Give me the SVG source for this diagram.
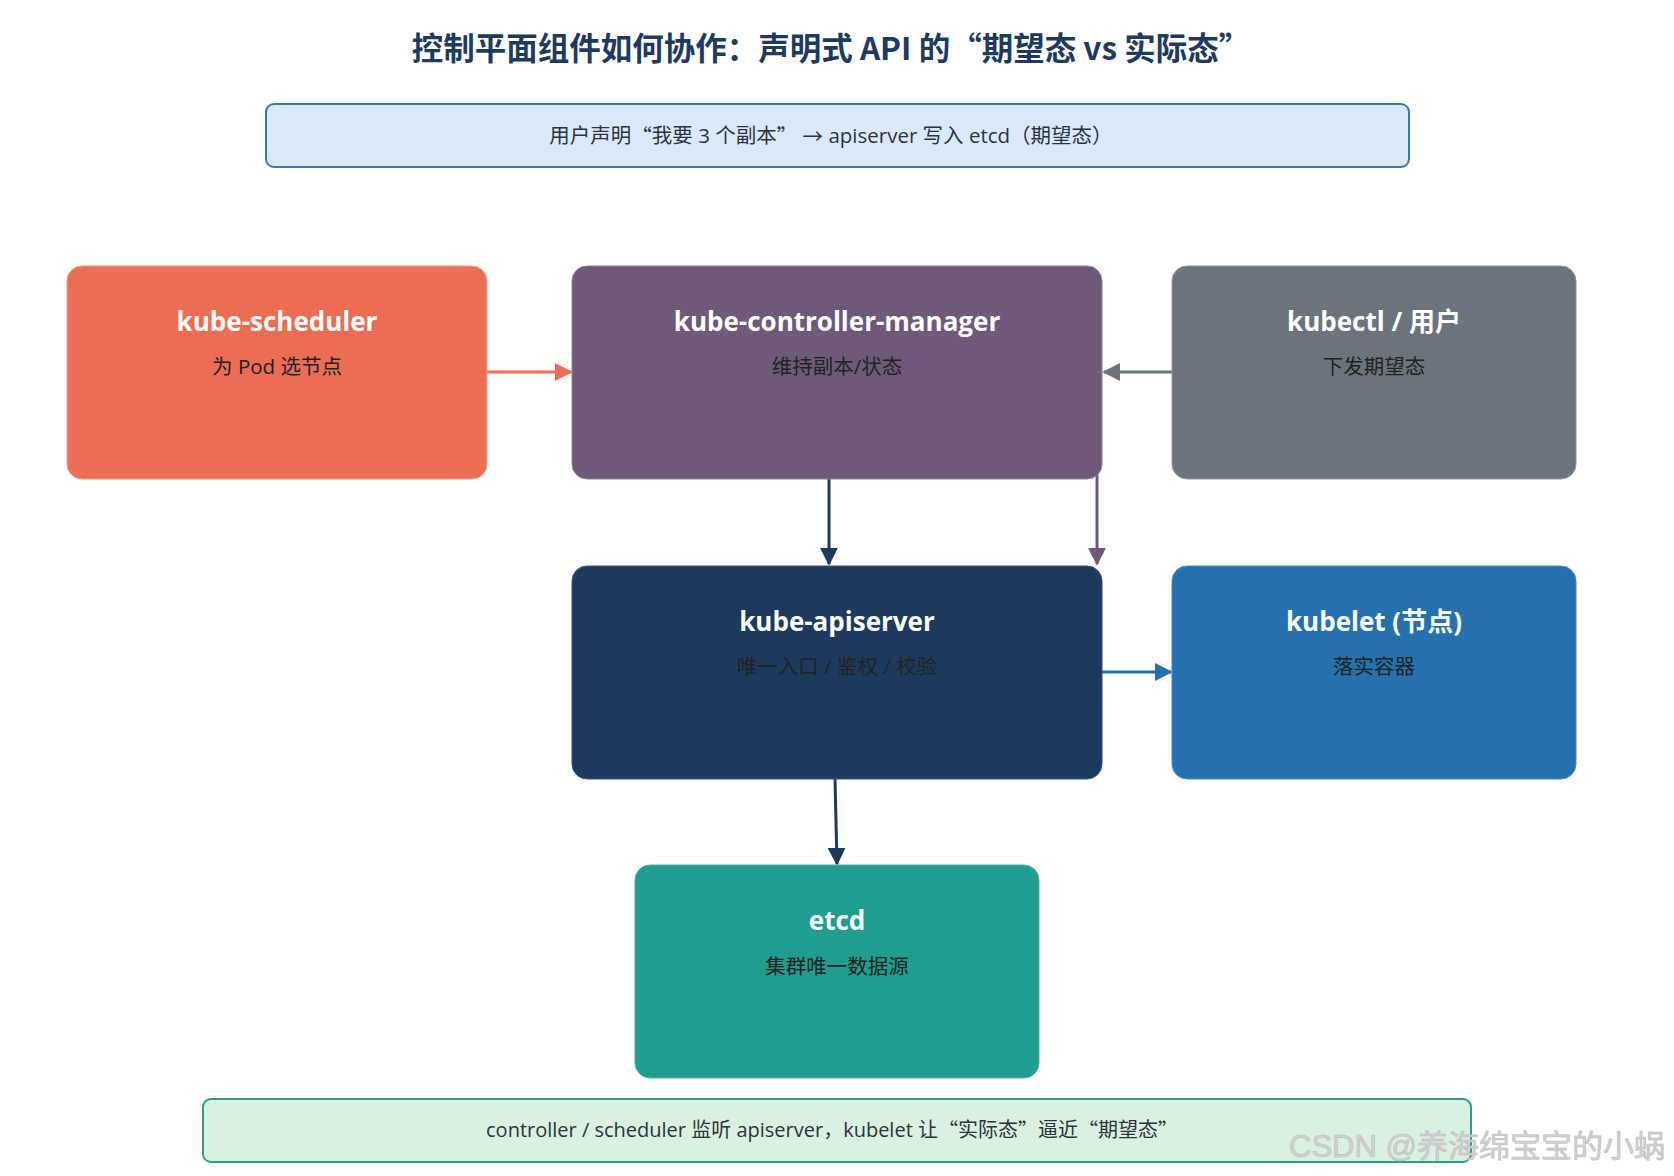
<svg xmlns="http://www.w3.org/2000/svg" width="1674" height="1176" viewBox="0 0 1674 1176">
<style>
  text { font-family: "Open Sans", "Noto Sans CJK SC", sans-serif; text-anchor: middle; dominant-baseline: central; }
  .title { font-family: "Noto Sans CJK SC", sans-serif; font-size: 31.5px; font-weight: bold; fill: #1e3a5f; }
  .band-text { font-family: "Open Sans", "Noto Sans CJK SC", sans-serif; font-size: 20px; fill: #2a3440; }
  .q { font-family: "Noto Sans CJK SC", sans-serif; }
  .ntitle { font-size: 26px; font-weight: bold; fill: #ffffff; }
  .nsub { font-size: 20.5px; fill: #222222; }
  .node { stroke-width: 1; }
  .conn { fill: none; stroke-width: 3; }
</style>
<defs>
  <marker id="ah-orange" viewBox="0 0 10 10" refX="9" refY="5" markerWidth="6" markerHeight="6" orient="auto"><path d="M0,0 L10,5 L0,10 z" fill="#eb6e54"/></marker>
  <marker id="ah-gray" viewBox="0 0 10 10" refX="9" refY="5" markerWidth="6" markerHeight="6" orient="auto"><path d="M0,0 L10,5 L0,10 z" fill="#6b747c"/></marker>
  <marker id="ah-navy" viewBox="0 0 10 10" refX="9" refY="5" markerWidth="6" markerHeight="6" orient="auto"><path d="M0,0 L10,5 L0,10 z" fill="#1c3a5e"/></marker>
  <marker id="ah-purple" viewBox="0 0 10 10" refX="9" refY="5" markerWidth="6" markerHeight="6" orient="auto"><path d="M0,0 L10,5 L0,10 z" fill="#6e5a78"/></marker>
  <marker id="ah-blue" viewBox="0 0 10 10" refX="9" refY="5" markerWidth="6" markerHeight="6" orient="auto"><path d="M0,0 L10,5 L0,10 z" fill="#2471ad"/></marker>
</defs>
<rect width="1674" height="1176" fill="#ffffff"/>

<text class="title" x="831" y="46">控制平面组件如何协作：声明式 API 的“期望态 vs 实际态”</text>

<g id="band-top">
  <rect x="266" y="104" width="1143" height="63" rx="8" fill="#dae9f9" stroke="#3a78b5" stroke-width="2"/>
  <text class="band-text" x="831" y="135" style="font-size:20.5px">用户声明<tspan class="q">“</tspan>我要 3 个副本<tspan class="q">”</tspan>  <tspan class="q">→</tspan> apiserver 写入 etcd（期望态）</text>
</g>

<g id="connectors">
  <line class="conn" x1="487" y1="372" x2="571" y2="372" stroke="#eb6e54" marker-end="url(#ah-orange)"/>
  <line class="conn" x1="1172" y1="372" x2="1104" y2="372" stroke="#6b747c" marker-end="url(#ah-gray)"/>
  <line class="conn" x1="829" y1="479" x2="829" y2="564" stroke="#1c3a5e" marker-end="url(#ah-navy)"/>
  <line class="conn" x1="1097" y1="470" x2="1097" y2="564" stroke="#6e5a78" marker-end="url(#ah-purple)"/>
  <line class="conn" x1="1102" y1="672" x2="1171" y2="672" stroke="#2471ad" marker-end="url(#ah-blue)"/>
  <line class="conn" x1="835" y1="779" x2="837" y2="864" stroke="#1c3a5e" marker-end="url(#ah-navy)"/>
</g>

<g id="kube-scheduler">
  <rect class="node" x="67" y="266" width="420" height="213" rx="15" fill="#eb6e54" stroke="#f09a88"/>
  <text class="ntitle" x="277" y="321">kube-scheduler</text>
  <text class="nsub" x="277" y="366">为 Pod 选节点</text>
</g>

<g id="kube-controller-manager">
  <rect class="node" x="572" y="266" width="530" height="213" rx="15" fill="#6e5a78" stroke="#8f7f98"/>
  <text class="ntitle" x="837" y="321">kube-controller-manager</text>
  <text class="nsub" x="837" y="366">维持副本/状态</text>
</g>

<g id="kubectl">
  <rect class="node" x="1172" y="266" width="404" height="213" rx="15" fill="#6b747c" stroke="#8f969d"/>
  <text class="ntitle" x="1374" y="321">kubectl / 用户</text>
  <text class="nsub" x="1374" y="366">下发期望态</text>
</g>

<g id="kube-apiserver">
  <rect class="node" x="572" y="566" width="530" height="213" rx="15" fill="#1c3a5e" stroke="#3a5575"/>
  <text class="ntitle" x="837" y="621">kube-apiserver</text>
  <text class="nsub" x="837" y="666">唯一入口 / 鉴权 / 校验</text>
</g>

<g id="kubelet">
  <rect class="node" x="1172" y="566" width="404" height="213" rx="15" fill="#2471ad" stroke="#4a8cc0"/>
  <text class="ntitle" x="1374" y="621">kubelet (节点)</text>
  <text class="nsub" x="1374" y="666">落实容器</text>
</g>

<g id="etcd">
  <rect class="node" x="635" y="865" width="404" height="213" rx="15" fill="#209d8f" stroke="#4cb3a7"/>
  <text class="ntitle" x="837" y="920">etcd</text>
  <text class="nsub" x="837" y="966">集群唯一数据源</text>
</g>

<g id="band-bottom">
  <rect x="203" y="1099" width="1268" height="63" rx="8" fill="#d9f1de" stroke="#2a9d8f" stroke-width="2"/>
  <text class="band-text" x="832" y="1129">controller / scheduler 监听 apiserver，kubelet 让<tspan class="q">“</tspan>实际态<tspan class="q">”</tspan>逼近<tspan class="q">“</tspan>期望态<tspan class="q">”</tspan></text>
</g>

<text x="1289" y="1146" style="text-anchor:start; font-size:31px; fill:#d2d2d2; stroke:#bcbcbc; stroke-width:0.6; font-family:'Liberation Sans','Noto Sans CJK SC',sans-serif;">CSDN @养海绵宝宝的小蜗</text>
</svg>
